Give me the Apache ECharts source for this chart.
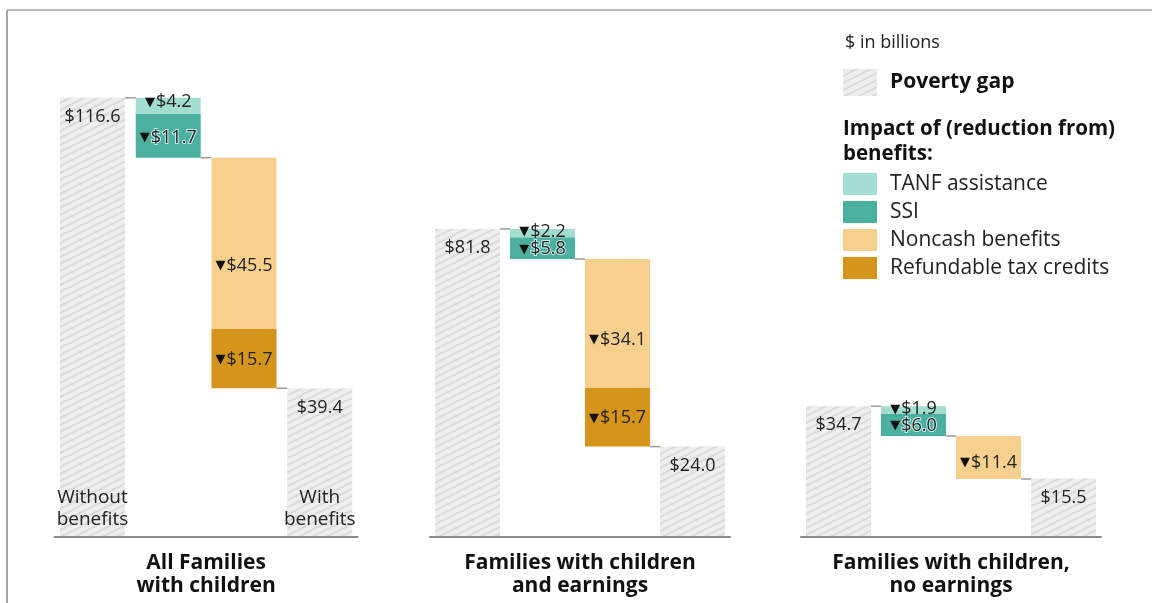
<!DOCTYPE html>
<html>
<head>
<meta charset="utf-8">
<script src="https://cdn.jsdelivr.net/npm/echarts@6/dist/echarts.min.js"></script>
<style>
  html, body { margin: 0; padding: 0; background: #fff; }
  #chart { width: 1152px; height: 603px; }
</style>
</head>
<body>
<div id="chart"></div>
<script>
// ---- data ($ in billions) ----
const groupNames = ['All Families\nwith children', 'Families with children\nand earnings', 'Families with children,\nno earnings'];
const stepNames = ['Without\nbenefits', '', '', 'With\nbenefits'];
const gapWithout = [116.6, 81.8, 34.7];
const tanf = [4.2, 2.2, 1.9];
const ssi = [11.7, 5.8, 6.0];
const noncash = [45.5, 34.1, 11.4];
const refundable = [15.7, 15.7, null];
const gapWith = [39.4, 24.0, 15.5];

// ---- styling ----
const FONT = 'Open Sans';
const C_TANF = '#a3ddd2', C_SSI = '#4cb0a1', C_NONCASH = '#f8d08d', C_REF = '#d5951b';
const BAR_W = 65;
const grids = [
  { left: 54.6, width: 303 },
  { left: 430, width: 300 },
  { left: 801, width: 300 }
];
const Y_MAX = 120, TOP = 85, BOTTOM = 63;
const pxPerUnit = (603 - TOP - BOTTOM) / Y_MAX;

function makeHatch() {
  const w = 14, h = 7;
  const c = document.createElement('canvas');
  c.width = w; c.height = h;
  const ctx = c.getContext('2d');
  ctx.fillStyle = '#eeeeee';
  ctx.fillRect(0, 0, w, h);
  ctx.strokeStyle = '#d9d9d9';
  ctx.lineWidth = 2;
  for (let k = -1; k <= 1; k++) {
    ctx.beginPath();
    ctx.moveTo(-1, h + k * h + h / w);
    ctx.lineTo(w + 1, k * h - h / w);
    ctx.stroke();
  }
  return c;
}
const hatch = { image: makeHatch(), repeat: 'repeat' };

const richLabel = {
  t: { fontSize: 13, color: '#111', fontFamily: 'DejaVu Sans', padding: [0, 1, 0, 0] },
  v: { fontSize: 18, color: '#222', fontFamily: FONT }
};
function deltaLabel(value, frac, halo) {
  const tall = value * pxPerUnit > 12;
  const base = {
    show: true,
    formatter: '{t|▼}{v|$' + value.toFixed(1) + '}',
    rich: JSON.parse(JSON.stringify(richLabel)),
    align: 'center', verticalAlign: 'middle'
  };
  if (halo) {
    base.rich.v.textBorderColor = 'rgba(220,245,240,0.9)';
    base.rich.v.textBorderWidth = 2;
  }
  if (tall) {
    base.position = ['50%', frac];
  } else {
    base.position = 'top';
    base.distance = -3;
  }
  return base;
}

const xAxes = [], yAxes = [], gridOpts = [], series = [];
groupNames.forEach((gName, g) => {
  gridOpts.push({ left: grids[g].left, width: grids[g].width, top: TOP, bottom: BOTTOM });
  xAxes.push({
    type: 'category', gridIndex: g, data: stepNames, z: 10,
    axisTick: { show: false },
    axisLine: { lineStyle: { color: '#8a8a8a', width: 2 } },
    axisLabel: {
      show: g === 0, inside: true, margin: 6, interval: 0,
      fontFamily: FONT, fontSize: 19, lineHeight: 22, color: '#222'
    },
    name: gName, nameLocation: 'middle', nameGap: 15,
    nameTextStyle: { fontFamily: FONT, fontSize: 21, fontWeight: 'bold', lineHeight: 23, color: '#111' }
  });
  yAxes.push({ type: 'value', gridIndex: g, min: 0, max: Y_MAX, show: false, splitLine: { show: false } });

  const ref = refundable[g] == null ? 0 : refundable[g];
  const base1 = gapWithout[g] - tanf[g] - ssi[g];
  const base2 = base1 - noncash[g] - ref;
  const stack = 's' + g;
  const common = { type: 'bar', xAxisIndex: g, yAxisIndex: g, stack: stack, barWidth: BAR_W, silent: true, animation: false };

  series.push(Object.assign({}, common, {
    name: 'base', data: ['-', base1, base2, '-'],
    itemStyle: { color: 'transparent' }
  }));
  series.push(Object.assign({}, common, {
    name: 'Poverty gap', data: [gapWithout[g], '-', '-', gapWith[g]],
    itemStyle: { color: hatch },
    label: {
      show: true, position: 'insideTop', distance: 10,
      formatter: p => '$' + p.value.toFixed(1),
      fontFamily: FONT, fontSize: 18, color: '#222'
    }
  }));
  series.push(Object.assign({}, common, {
    name: 'SSI', data: ['-', { value: ssi[g], label: deltaLabel(ssi[g], '55%', true) }, '-', '-'],
    itemStyle: { color: C_SSI }
  }));
  series.push(Object.assign({}, common, {
    name: 'TANF assistance', data: ['-', { value: tanf[g], label: deltaLabel(tanf[g], '28%', false) }, '-', '-'],
    itemStyle: { color: C_TANF }
  }));
  series.push(Object.assign({}, common, {
    name: 'Refundable tax credits',
    data: ['-', '-', refundable[g] == null ? '-' : { value: refundable[g], label: deltaLabel(refundable[g], '52%', false) }, '-'],
    itemStyle: { color: C_REF }
  }));
  series.push(Object.assign({}, common, {
    name: 'Noncash benefits', data: ['-', '-', { value: noncash[g], label: deltaLabel(noncash[g], '63%', false) }, '-'],
    itemStyle: { color: C_NONCASH }
  }));
  // connectors between adjacent bars
  series.push({
    type: 'custom', name: 'connector', xAxisIndex: g, yAxisIndex: g, silent: true, animation: false,
    data: [[0, gapWithout[g]], [1, base1], [2, base2]],
    renderItem: (params, api) => {
      const p = api.coord([api.value(0), api.value(1)]);
      const band = api.size([1, 0])[0];
      return {
        type: 'line',
        shape: { x1: p[0] + BAR_W / 2, y1: p[1], x2: p[0] + band - BAR_W / 2, y2: p[1] },
        style: { stroke: '#9a9a9a', lineWidth: 1.5 }
      };
    },
    z: 1
  });
});

const option = {
  backgroundColor: '#fff',
  animation: false,
  grid: gridOpts,
  xAxis: xAxes,
  yAxis: yAxes,
  series: series,
  legend: [
    {
      data: ['Poverty gap'], left: 843, top: 69, padding: 0, selectedMode: false,
      itemWidth: 34, itemHeight: 27, icon: 'rect',
      textStyle: { fontFamily: FONT, fontSize: 21, fontWeight: 'bold', color: '#111', padding: [0, 0, 0, 8] }
    },
    {
      data: ['TANF assistance', 'SSI', 'Noncash benefits', 'Refundable tax credits'],
      left: 843, top: 172, padding: 0, orient: 'vertical', selectedMode: false,
      itemWidth: 34, itemHeight: 22, itemGap: 4, icon: 'rect',
      textStyle: { fontFamily: FONT, fontSize: 21, lineHeight: 22, color: '#222', padding: [2, 0, 0, 8] }
    }
  ],
  graphic: [
    { type: 'line', shape: { x1: 7, y1: 10, x2: 1152, y2: 10 }, style: { stroke: '#a8a8a8', lineWidth: 1.5 } },
    { type: 'line', shape: { x1: 7, y1: 10, x2: 7, y2: 603 }, style: { stroke: '#a8a8a8', lineWidth: 2 } },
    { type: 'text', left: 845, top: 34, style: { text: '$ in billions', font: '18px "Open Sans"', fill: '#222' } },
    { type: 'text', left: 843, top: 117, style: { text: 'Impact of (reduction from)\nbenefits:', font: 'bold 20.5px "Open Sans"', lineHeight: 25, fill: '#111' } }
  ]
};

const chart = echarts.init(document.getElementById('chart'), null, { renderer: 'canvas' });
chart.setOption(option);
</script>
</body>
</html>
